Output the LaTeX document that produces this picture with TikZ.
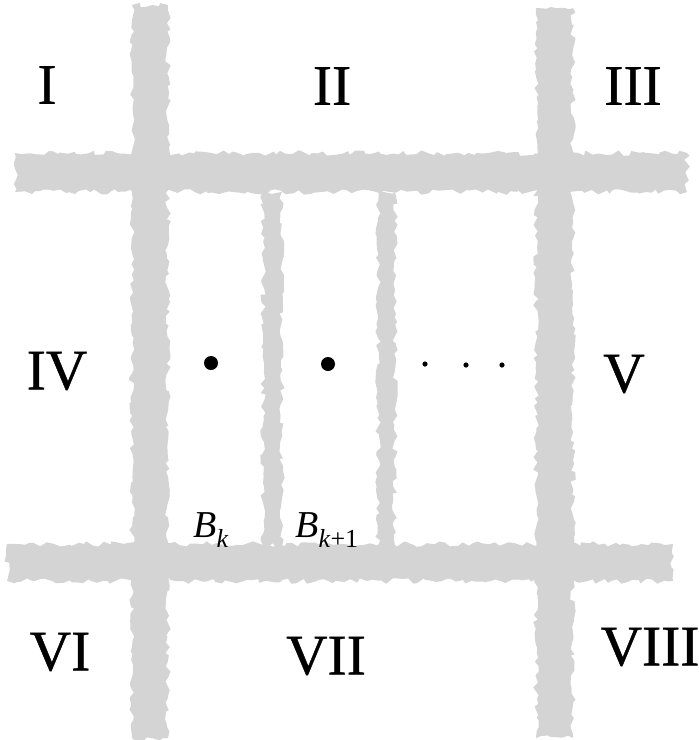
\documentclass[tikz,border=0pt]{standalone}
\usepackage{fontspec}
\setmainfont{Liberation Serif}
\newfontfamily\numfont[FakeBold=0.7]{Liberation Serif}
\usetikzlibrary{decorations.pathmorphing}
\begin{document}
\begin{tikzpicture}[x=0.5pt,y=-0.5pt,
  band/.style={fill=black!17,draw=none,decorate,decoration={random steps,segment length=2.5pt,amplitude=1.4pt}},
  numeral/.style={inner sep=0pt,font=\numfont\fontsize{28.7}{30}\selectfont},
  bigdot/.style={circle,fill=black,inner sep=0pt,minimum size=7pt},
  smalldot/.style={circle,fill=black,inner sep=0pt,minimum size=2.6pt},
  blabel/.style={inner sep=0pt,anchor=base west,font=\fontsize{19}{20}\selectfont}]
\useasboundingbox (0,0) rectangle (699,740);
\pgfmathsetseed{7}
% bands
\path[band] (15,153) rectangle (687,192);
\path[band] (7,544) rectangle (673,581);
\path[band] (132,5) rectangle (168,738);
\path[band] (536,8) rectangle (573,738);
\path[band] (263,192) rectangle (282,546);
\path[band] (378,192) rectangle (395,546);
% region labels
\node[numeral] (r1) at (47,85) {I};
\node[numeral] (r2) at (332,86) {II};
\node[numeral] (r3) at (633,86) {III};
\node[numeral] (r4) at (57,371) {IV};
\node[numeral] (r5) at (624,374) {V};
\node[numeral] (r6) at (60,652) {VI};
\node[numeral] (r7) at (326,656) {VII};
\node[numeral] (r8) at (650,647) {VIII};
% dots
\node[bigdot] (d1) at (211,363) {};
\node[bigdot] (d2) at (328,364) {};
\node[smalldot] (s1) at (425,364) {};
\node[smalldot] (s2) at (466,365) {};
\node[smalldot] (s3) at (502,365) {};
% B labels
\node[blabel] (bk) at (193,537) {\textit{B}\raisebox{-0.28em}{\fontsize{13}{14}\selectfont\textit{k}}};
\node[blabel] (bk1) at (295,537) {\textit{B}\raisebox{-0.28em}{\fontsize{13}{14}\selectfont\textit{k}+1}};
\end{tikzpicture}
\end{document}
